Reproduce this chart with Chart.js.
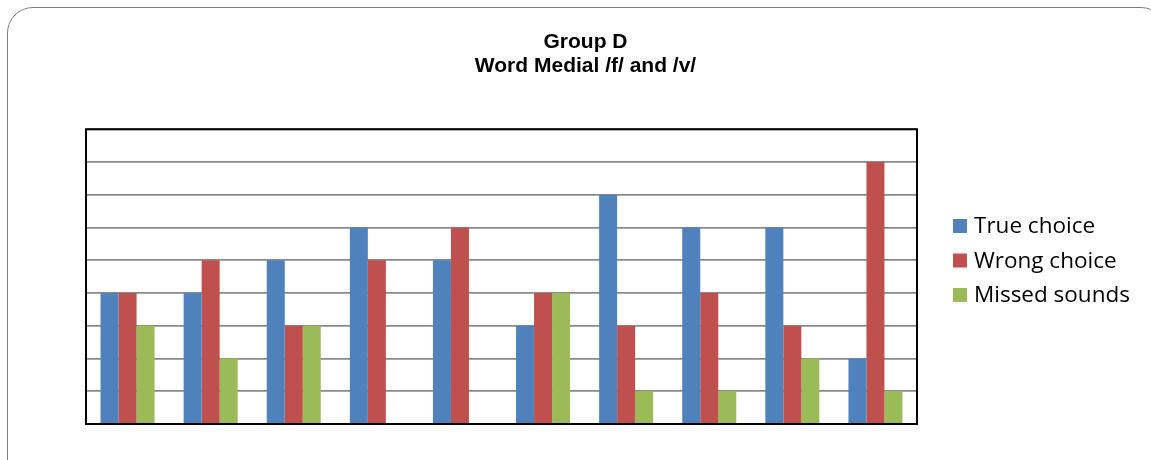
<!DOCTYPE html>
<html>
<head>
<meta charset="utf-8">
<script src="https://cdn.jsdelivr.net/npm/chart.js@4.4.1/dist/chart.umd.min.js"></script>
<style>
  html, body { margin: 0; padding: 0; background: #fff; overflow: hidden; }
  #wrap { position: relative; width: 1151px; height: 460px; overflow: hidden; }
  #frame { position: absolute; left: 7px; top: 7px; width: 1160px; height: 480px;
           border: 1.5px solid #7f7f7f; border-radius: 26px; box-sizing: border-box; }
  #c { position: absolute; left: 0; top: 0; }
</style>
</head>
<body>
<div id="wrap">
  <div id="frame"></div>
  <canvas id="c" width="1151" height="460"></canvas>
</div>
<script>
const categories = ['1','2','3','4','5','6','7','8','9','10'];
const trueChoice   = [4, 4, 5, 6, 5, 3, 7, 6, 6, 2];
const wrongChoice  = [4, 5, 3, 5, 6, 4, 3, 4, 3, 8];
const missedSounds = [3, 2, 3, 0, 0, 4, 1, 1, 2, 1];
const seriesNames  = ['True choice', 'Wrong choice', 'Missed sounds'];
const titleLines   = ['Group D', 'Word Medial /f/ and /v/'];
const yMax = 9;

const plotFrame = {
  id: 'plotFrame',
  afterDatasetsDraw(chart) {
    const a = chart.chartArea, ctx = chart.ctx;
    ctx.save();
    ctx.strokeStyle = '#000';
    ctx.lineWidth = 2;
    ctx.strokeRect(a.left, a.top, a.right - a.left, a.bottom - a.top);
    ctx.restore();
  }
};

const sideLegend = {
  id: 'sideLegend',
  afterDraw(chart) {
    const ctx = chart.ctx;
    ctx.save();
    ctx.font = '22.5px "Open Sans"';
    ctx.textBaseline = 'middle';
    chart.data.datasets.forEach((ds, i) => {
      const y = 226 + i * 34.5;
      ctx.fillStyle = ds.backgroundColor;
      ctx.fillRect(953, y - 7, 14, 14);
      ctx.fillStyle = '#000';
      ctx.fillText(ds.label, 974, y + 1);
    });
    ctx.restore();
  }
};

new Chart(document.getElementById('c'), {
  type: 'bar',
  data: {
    labels: categories,
    datasets: [
      { label: seriesNames[0], data: trueChoice,   backgroundColor: '#4F81BD', yAxisID: 'y' },
      { label: seriesNames[1], data: wrongChoice,  backgroundColor: '#C0504D', yAxisID: 'y' },
      { label: seriesNames[2], data: missedSounds, backgroundColor: '#9BBB59', yAxisID: 'y' }
    ]
  },
  options: {
    responsive: false,
    animation: false,
    devicePixelRatio: 1,
    layout: { padding: { left: 20, right: 0, top: 0, bottom: 36 } },
    datasets: { bar: { barPercentage: 1.0, categoryPercentage: 0.65 } },
    scales: {
      x: {
        grid: { display: false },
        ticks: { display: false },
        border: { display: false },
        afterFit(s) { s.height = 0; }
      },
      y: {
        position: 'left',
        min: 0, max: yMax,
        ticks: { display: false, stepSize: 1 },
        grid: { color: '#8a8a8a', lineWidth: 1.8, drawTicks: false },
        border: { display: false },
        afterFit(s) { s.width = 66; }
      },
      yRight: {
        position: 'right',
        min: 0, max: yMax,
        ticks: { display: false },
        grid: { display: false },
        border: { display: false },
        afterFit(s) { s.width = 234; }
      }
    },
    plugins: {
      legend: { display: false },
      tooltip: { enabled: false },
      title: {
        display: true,
        text: titleLines,
        color: '#000',
        font: { family: 'Liberation Sans, Arial, sans-serif', size: 21, weight: 'bold', lineHeight: 1.15 },
        padding: { top: 30, bottom: 51 }
      }
    }
  },
  plugins: [plotFrame, sideLegend]
});
</script>
</body>
</html>
